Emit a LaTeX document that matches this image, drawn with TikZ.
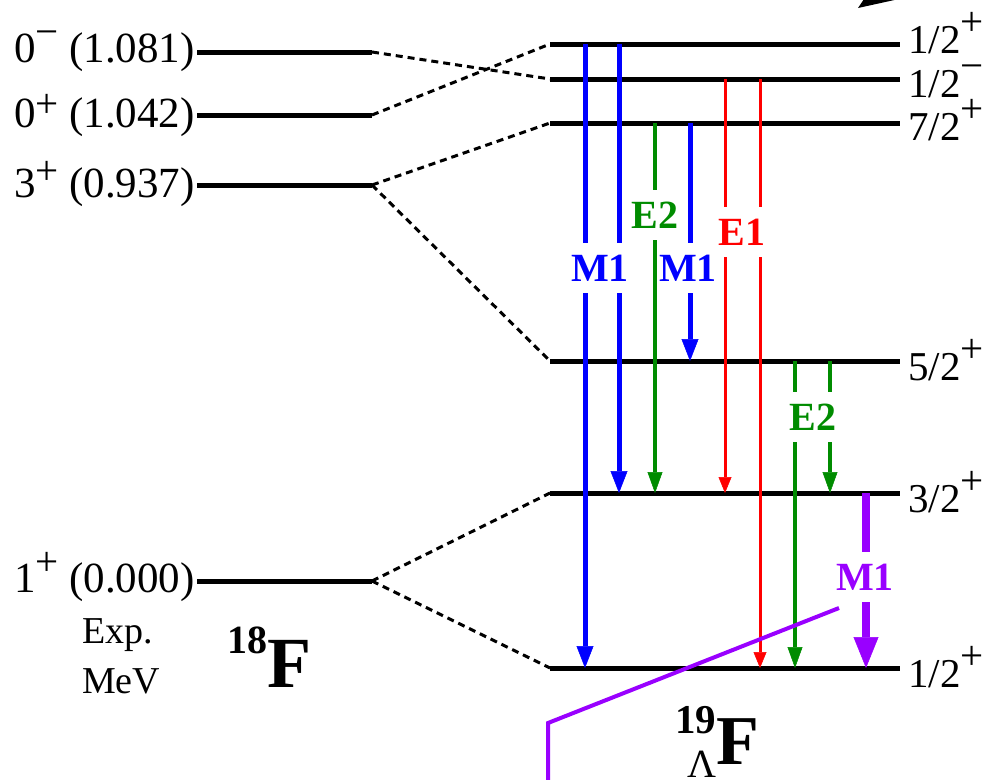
\documentclass[tikz,border=0pt]{standalone}
\usepackage{fontspec}
\setmainfont{Liberation Serif}
\usetikzlibrary{arrows.meta}

\definecolor{mblue}{RGB}{0,0,255}
\definecolor{egreen}{RGB}{0,140,0}
\definecolor{ered}{RGB}{255,0,0}
\definecolor{mpurple}{RGB}{153,0,255}

% superscript parity signs: #1 = raise, #2 = sign
\newcommand{\lsup}[2]{\raisebox{#1}{\fontsize{41}{41}\selectfont #2}}
\newcommand{\rsup}[1]{\raisebox{18pt}{#1}}

\tikzset{
  level/.style={line width=5pt},
  link/.style={line width=3pt, dash pattern=on 7pt off 5pt},
  lstate/.style={anchor=base east, inner sep=0pt, font=\fontsize{43}{43}\selectfont},
  rstate/.style={anchor=base west, inner sep=0pt, font=\fontsize{41}{41}\selectfont},
  mone/.style={draw=mblue, line width=5pt, -{Triangle[length=22pt,width=17pt,line width=0.5pt]}},
  etwo/.style={draw=egreen, line width=4.5pt, -{Triangle[length=21pt,width=15pt,line width=0.5pt]}},
  eone/.style={draw=ered, line width=3pt, -{Triangle[length=16pt,width=13pt,line width=0.5pt]}},
  mthick/.style={draw=mpurple, line width=8pt, -{Triangle[length=31pt,width=25pt,line width=0.5pt]}},
  tlabel/.style={fill=white, inner xsep=1pt, inner ysep=12pt, font=\fontsize{40}{40}\selectfont\bfseries},
}

\begin{document}
\begin{tikzpicture}[x=1pt, y=-1pt]
\useasboundingbox (0,0) rectangle (995,779);
\clip (0,0) rectangle (995,779);

% ---- 18F levels (left) ----
\coordinate (a0mL) at (197,52);  \coordinate (a0mR) at (372,52);
\coordinate (a0pL) at (197,115); \coordinate (a0pR) at (372,115);
\coordinate (a3pL) at (197,185); \coordinate (a3pR) at (372,185);
\coordinate (a1pL) at (197,581); \coordinate (a1pR) at (372,581);
\foreach \s in {a0m,a0p,a3p,a1p} \draw[level] (\s L) -- (\s R);

\node[lstate] (la0m) at (195,62)  {0\lsup{17pt}{−}\ (1.081)};
\node[lstate] (la0p) at (195,127) {0\lsup{10pt}{+}\ (1.042)};
\node[lstate] (la3p) at (195,197) {3\lsup{13pt}{+}\ (0.937)};
\node[lstate] (la1p) at (195,592) {1\lsup{17pt}{+}\ (0.000)};

\node[anchor=base west, inner sep=0pt, align=left, font=\fontsize{38}{50}\selectfont]
  (expmev) at (82,693) {Exp.\\MeV};
\node[anchor=base west, inner sep=0pt] (f18) at (227,687)
  {\bfseries\raisebox{34pt}{\fontsize{40}{40}\selectfont 18}\fontsize{72}{72}\selectfont F};

% ---- 19LF levels (right) ----
\coordinate (b1L) at (550,44);  \coordinate (b1R) at (900,44);
\coordinate (b2L) at (550,79);  \coordinate (b2R) at (900,79);
\coordinate (b3L) at (550,123); \coordinate (b3R) at (900,123);
\coordinate (b4L) at (550,361); \coordinate (b4R) at (900,361);
\coordinate (b5L) at (550,493); \coordinate (b5R) at (900,493);
\coordinate (b6L) at (550,668); \coordinate (b6R) at (900,668);
\foreach \s in {b1,b2,b3,b4,b5,b6} \draw[level] (\s L) -- (\s R);

\node[rstate] (lb1) at (908,53)  {1/2\rsup{+}};
\node[rstate] (lb2) at (908,97)  {1/2\rsup{−}};
\node[rstate] (lb3) at (908,140) {7/2\rsup{+}};
\node[rstate] (lb4) at (908,380) {5/2\rsup{+}};
\node[rstate] (lb5) at (908,512) {3/2\rsup{+}};
\node[rstate] (lb6) at (908,687) {1/2\rsup{+}};

\node[anchor=base west, inner sep=0pt] (f19) at (675,764)
  {\bfseries\rlap{\raisebox{31pt}{\fontsize{41}{41}\selectfont 19}}\hspace{12pt}\raisebox{-13pt}{\fontsize{40}{40}\mdseries\selectfont Λ}\fontsize{70}{70}\selectfont F};

% ---- correspondence links ----
\draw[link] (a0mR) -- (b2L);
\draw[link] (a0pR) -- (b1L);
\draw[link] (a3pR) -- (b3L);
\draw[link] (a3pR) -- (b4L);
\draw[link] (a1pR) -- (b5L);
\draw[link] (a1pR) -- (b6L);

% ---- transitions ----
\coordinate (x1) at (585,0);
\coordinate (x2) at (619,0);
\coordinate (x3) at (655,0);
\coordinate (x4) at (690,0);
\coordinate (x5) at (725,0);
\coordinate (x6) at (760,0);
\coordinate (x7) at (795,0);
\coordinate (x8) at (830,0);
\coordinate (x9) at (866,0);

\draw[mone] (x1 |- b1L) -- (x1 |- b6L);
\draw[mone] (x2 |- b1L) -- (x2 |- b5L);
\draw[etwo] (x3 |- b3L) -- (x3 |- b5L);
\draw[mone] (x4 |- b3L) -- (x4 |- b4L);
\draw[eone] (x5 |- b2L) -- (x5 |- b5L);
\draw[eone] (x6 |- b2L) -- (x6 |- b6L);
\draw[etwo] (x7 |- b4L) -- (x7 |- b6L);
\draw[etwo] (x8 |- b4L) -- (x8 |- b5L);
\draw[mthick] (x9 |- b5L) -- (x9 |- b6L);

\node[tlabel, text=mblue]   (tm1a) at (600,268) {M1};
\node[tlabel, text=egreen]  (te2a) at (655,215) {E2};
\node[tlabel, text=mblue]   (tm1b) at (688,268) {M1};
\node[tlabel, text=ered]    (te1)  at (742,232) {E1};
\node[tlabel, text=egreen]  (te2b) at (813,417) {E2};
\node[tlabel, text=mpurple] (tm1c) at (865,577) {M1};

% ---- pointer line and arrow ----
\coordinate (p1) at (839,608);
\coordinate (p2) at (548,723);
\coordinate (p3) at (548,790);
\draw[mpurple, line width=4pt] (p1) -- (p2) -- (p3);

\coordinate (q1) at (858,8);
\fill (q1) -- (864,-1) -- (899,-1) -- cycle;
\end{tikzpicture}
\end{document}
